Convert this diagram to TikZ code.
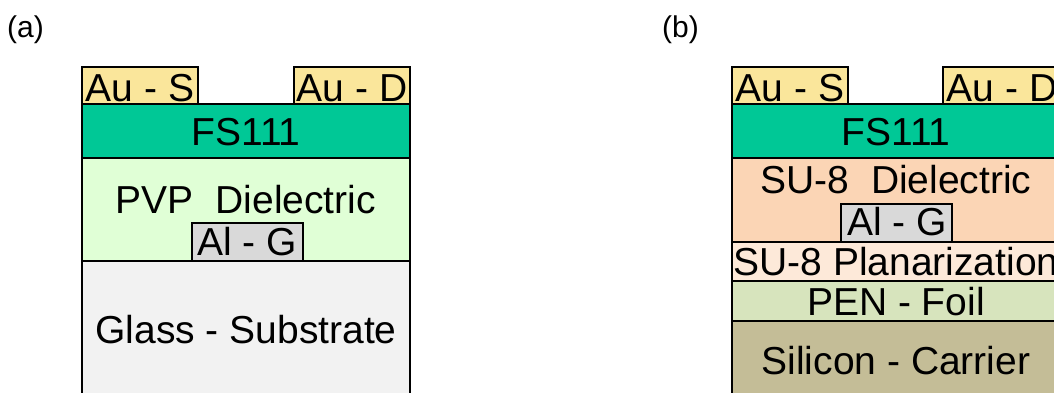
\documentclass[tikz,border=0pt]{standalone}
\usepackage{fontspec}
\setmainfont{Liberation Sans}
\definecolor{gold}{RGB}{250,230,155}
\definecolor{fsgreen}{RGB}{0,200,150}
\definecolor{pvpgreen}{RGB}{224,255,214}
\definecolor{alugray}{RGB}{217,217,217}
\definecolor{glassgray}{RGB}{242,242,242}
\definecolor{supeach}{RGB}{251,213,181}
\definecolor{planpeach}{RGB}{253,233,217}
\definecolor{penolive}{RGB}{215,228,189}
\definecolor{sitan}{RGB}{196,189,151}
\tikzset{
  layer/.style={draw=black, line width=2.8pt, fill=#1},
  lbl/.style={inner sep=0pt, text height=27.9pt, text depth=0pt,
    font=\fontsize{39}{41}\selectfont},
  tag/.style={inner sep=0pt, anchor=base west, font=\fontsize{30}{32}\selectfont}
}
\begin{document}
\begin{tikzpicture}[x=1pt,y=-1pt]
\useasboundingbox (0,0) rectangle (1054,392);
\clip (0,0) rectangle (1054,392);

% ---- (a) glass-substrate stack ----
\node[tag] (taga) at (7,37) {(a)};
\draw[layer=glassgray] (82,261) rectangle (410,400);
\draw[layer=pvpgreen] (82,158) rectangle (410,261);
\draw[layer=fsgreen] (82,104) rectangle (410,158);
\draw[layer=gold] (82,67) rectangle (198,104);
\draw[layer=gold] (294,67) rectangle (410,104);
\draw[layer=alugray] (192,223) rectangle (303,261);
\node[lbl] (aS) at (140,88) {Au - S};
\node[lbl] (aD) at (352,88) {Au - D};
\node[lbl] (aFS) at (246,132) {FS111};
\node[lbl] (aPVP) at (246,200) {PVP\ \ Dielectric};
\node[lbl] (aG) at (247,242) {Al - G};
\node[lbl] (aGlass) at (246,330) {Glass - Substrate};

% ---- (b) foil-on-carrier stack ----
\node[tag] (tagb) at (662,37) {(b)};
\draw[layer=sitan] (732,321) rectangle (1060,400);
\draw[layer=penolive] (732,281) rectangle (1060,321);
\draw[layer=planpeach] (732,242) rectangle (1060,281);
\draw[layer=supeach] (732,158) rectangle (1060,242);
\draw[layer=fsgreen] (732,104) rectangle (1060,158);
\draw[layer=gold] (732,67) rectangle (848,104);
\draw[layer=gold] (943,67) rectangle (1060,104);
\draw[layer=alugray] (841,204) rectangle (952,242);
\node[lbl] (bS) at (790,88) {Au - S};
\node[lbl] (bD) at (1002,88) {Au - D};
\node[lbl] (bFS) at (896,132) {FS111};
\node[lbl] (bSU) at (896,180) {SU-8\ \ Dielectric};
\node[lbl] (bG) at (897,222) {Al - G};
\node[lbl] (bPl) at (896,262) {SU-8 Planarization};
\node[lbl] (bPEN) at (896,302) {PEN - Foil};
\node[lbl] (bSi) at (896,361) {Silicon - Carrier};
\end{tikzpicture}
\end{document}
